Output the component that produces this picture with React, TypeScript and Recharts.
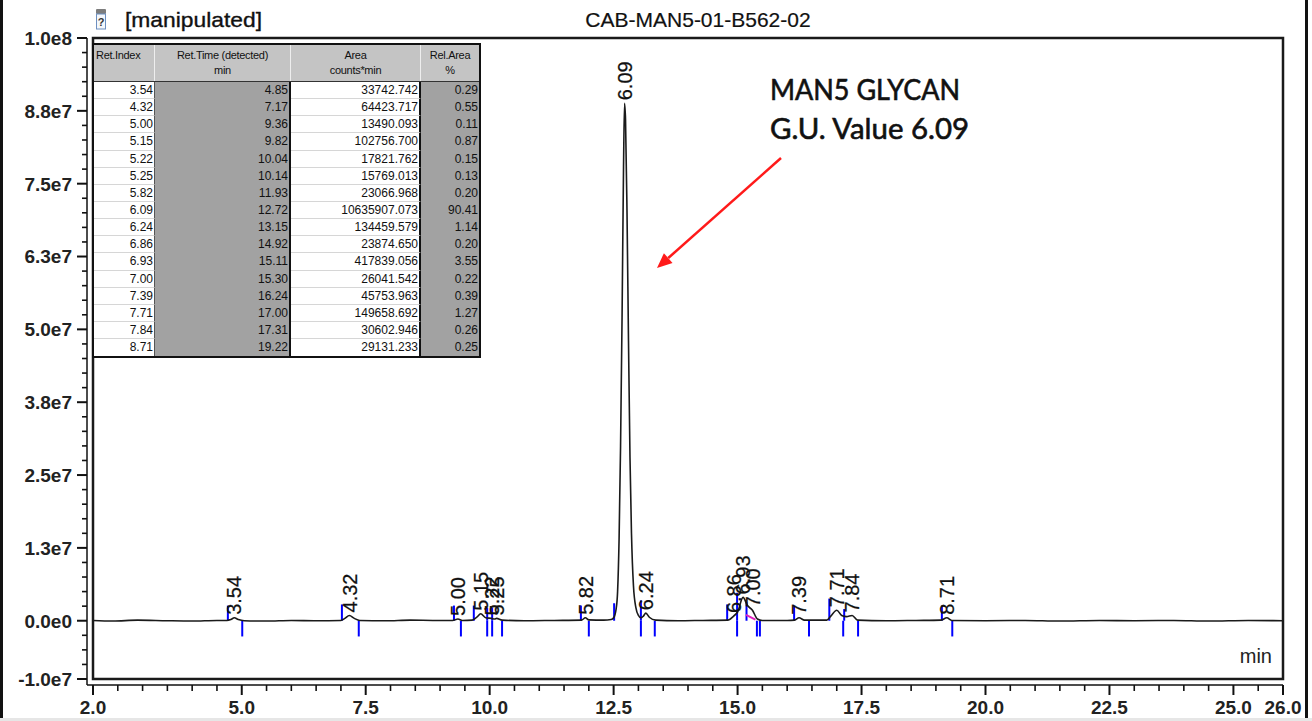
import React from 'react';
import { ComposedChart, Line, Scatter, XAxis, YAxis, ReferenceLine, ReferenceArea } from 'recharts';

const W = 1312;
const H = 721;

// Chromatogram trace: retention time (min) and signal (units of 1e6 counts)
const traceTime = [
  2.0, 2.4, 2.9, 3.5, 4.0, 4.5, 4.7, 4.78, 4.85, 4.93, 5.05, 5.5, 6.0, 6.5, 7.0, 7.08, 7.17, 7.27, 7.38,
  7.9, 8.4, 8.9, 9.25, 9.36, 9.45, 9.65, 9.74, 9.82, 9.92, 10.04, 10.1, 10.14, 10.25, 10.7, 11.3, 11.85,
  11.93, 12.0, 12.3, 12.45, 12.5, 12.55, 12.58, 12.61, 12.64, 12.67, 12.7, 12.72, 12.74, 12.77, 12.8,
  12.83, 12.86, 12.9, 12.95, 13.0, 13.05, 13.1, 13.15, 13.22, 13.35, 13.8, 14.3, 14.8, 14.92, 15.0,
  15.11, 15.2, 15.3, 15.4, 15.5, 16.0, 16.15, 16.24, 16.35, 16.8, 16.88, 17.0, 17.1, 17.2, 17.31, 17.42,
  18.0, 18.6, 19.1, 19.22, 19.32, 20.0, 20.8, 21.5, 22.3, 23.0, 23.8, 24.5, 25.3, 26.0,
];
const traceSignal = [
  0.05, -0.05, 0.1, 0.0, -0.05, 0.05, 0.05, 0.2, 0.5, 0.2, 0.0, -0.05, 0.05, 0.0, 0.05, 0.4, 0.9, 0.4, 0.05,
  0.0, 0.1, 0.05, 0.05, 0.3, 0.05, 0.1, 0.6, 1.2, 0.5, 0.4, 0.3, 0.4, 0.1, 0.0, 0.05, 0.1,
  0.5, 0.15, 0.1, 0.2, 0.5, 2.0, 5.0, 14.0, 30.0, 52.0, 78.0, 88.8, 86.0, 70.0, 48.0,
  28.0, 15.0, 6.0, 2.2, 0.9, 0.5, 0.8, 1.3, 0.6, 0.1, 0.0, 0.05, 0.1, 0.8, 1.5,
  4.0, 2.6, 1.8, 0.3, 0.05, 0.05, 0.1, 0.5, 0.1, 0.1, 0.8, 1.8, 0.9, 0.7, 0.9, 0.1,
  0.0, 0.05, 0.1, 0.5, 0.05, 0.0, 0.05, -0.05, 0.05, 0.0, 0.05, -0.05, 0.05, 0.0,
];

// Peak table
const peakRetIndex = ['3.54', '4.32', '5.00', '5.15', '5.22', '5.25', '5.82', '6.09', '6.24', '6.86', '6.93', '7.00', '7.39', '7.71', '7.84', '8.71'];
const peakRetTime = [4.85, 7.17, 9.36, 9.82, 10.04, 10.14, 11.93, 12.72, 13.15, 14.92, 15.11, 15.30, 16.24, 17.00, 17.31, 19.22];
const peakRetTimeText = ['4.85', '7.17', '9.36', '9.82', '10.04', '10.14', '11.93', '12.72', '13.15', '14.92', '15.11', '15.30', '16.24', '17.00', '17.31', '19.22'];
const peakArea = ['33742.742', '64423.717', '13490.093', '102756.700', '17821.762', '15769.013', '23066.968', '10635907.073', '134459.579', '23874.650', '417839.056', '26041.542', '45753.963', '149658.692', '30602.946', '29131.233'];
const peakRelArea = ['0.29', '0.55', '0.11', '0.87', '0.15', '0.13', '0.20', '90.41', '1.14', '0.20', '3.55', '0.22', '0.39', '1.27', '0.26', '0.25'];
const peakApex = [0.5, 0.9, 0.3, 1.2, 0.4, 0.4, 0.5, 88.8, 1.3, 0.8, 4.0, 1.8, 0.5, 1.8, 0.9, 0.5];

// Integration markers
const intStartTime = [4.72, 7.02, 9.28, 9.68, 9.95, 10.05, 11.84, 12.51, 13.05, 14.79, 14.99, 15.18, 16.14, 16.85, 17.15, 19.12];
const intStartHeight = [2.6, 2.8, 2.6, 2.6, 2.2, 2.2, 2.6, 3.0, 3.5, 2.8, 4.8, 3.2, 2.6, 3.8, 2.0, 2.6];
const intEndTime = [5.01, 7.36, 9.42, 9.95, 10.05, 10.25, 12.0, 13.05, 13.33, 14.99, 15.39, 15.45, 16.44, 17.13, 17.43, 19.33];
const intEndDepth = -2.7;

// Axes
const xMajorTicks = [2, 5, 7.5, 10, 12.5, 15, 17.5, 20, 22.5, 25, 26];
const xTickLabels = ['2.0', '5.0', '7.5', '10.0', '12.5', '15.0', '17.5', '20.0', '22.5', '25.0', '26.0'];
const yMajorTicks = [100, 87.5, 75, 62.5, 50, 37.5, 25, 12.5, 0, -10];
const yTickLabels = ['1.0e8', '8.8e7', '7.5e7', '6.3e7', '5.0e7', '3.8e7', '2.5e7', '1.3e7', '0.0e0', '-1.0e7'];

const xTicks: number[] = [];
for (let k = 4; k <= 52; k++) xTicks.push(k / 2);
const yTicks: number[] = [];
for (let k = -4; k <= 40; k++) yTicks.push(k * 2.5);

const traceData = traceTime.map((t, i) => ({ t, v: traceSignal[i] }));
const labelData = peakRetTime.map((t, i) => ({ t, v: peakApex[i], label: peakRetIndex[i] }));

const ARIAL = '"Liberation Sans", Arial, sans-serif';

const XTick = (props: any) => {
  const { x, y, payload } = props;
  const idx = xMajorTicks.findIndex((m) => Math.abs(m - payload.value) < 1e-6);
  const major = idx >= 0;
  return (
    <g>
      <line x1={x} x2={x} y1={y} y2={y + (major ? 10 : 6)} stroke="#111" strokeWidth={major ? 2 : 1.6} />
      {major && (
        <text x={x} y={y + 29} textAnchor="middle" fontFamily={ARIAL} fontSize={19} fontWeight="bold" fill="#222">
          {xTickLabels[idx]}
        </text>
      )}
    </g>
  );
};

const YTick = (props: any) => {
  const { x, y, payload } = props;
  const idx = yMajorTicks.findIndex((m) => Math.abs(m - payload.value) < 1e-6);
  const major = idx >= 0;
  return (
    <g>
      <line x1={x - (major ? 10 : 5)} x2={x} y1={y} y2={y} stroke="#111" strokeWidth={major ? 2 : 1.6} />
      {major && (
        <text x={x - 15} y={y} dy="0.36em" textAnchor="end" fontFamily={ARIAL} fontSize={19} fontWeight="bold" fill="#222">
          {yTickLabels[idx]}
        </text>
      )}
    </g>
  );
};

const PeakLabel = (props: any) => {
  const { cx, cy, payload } = props;
  if (cx == null || cy == null) return null;
  const y0 = cy - 3;
  return (
    <text
      x={cx}
      y={y0}
      dy="0.36em"
      transform={`rotate(-90 ${cx} ${y0})`}
      fontFamily={ARIAL}
      fontSize={20}
      fill="#111"
      stroke="#111"
      strokeWidth={0.25}
    >
      {payload.label}
    </text>
  );
};

const PeakTable = () => {
  const colW = [61, 136, 130, 58];
  const headerH = 37;
  const rowH = 17.15;
  const grey = '#a2a2a2';
  const headBg = '#c4c4c4';
  const cellBase: React.CSSProperties = {
    boxSizing: 'border-box',
    fontFamily: ARIAL,
    fontSize: 12,
    color: '#111',
    textAlign: 'right',
    paddingRight: 1,
    lineHeight: `${rowH}px`,
    height: rowH,
    overflow: 'hidden',
    whiteSpace: 'nowrap',
  };
  const colBg = ['#ffffff', grey, '#ffffff', grey];
  const colRight = ['1px solid #555', '2px solid #111', '2px solid #111', 'none'];
  const headers = [
    ['Ret.Index', ''],
    ['Ret.Time (detected)', 'min'],
    ['Area', 'counts*min'],
    ['Rel.Area', '%'],
  ];
  const rows = peakRetIndex.map((r, i) => [r, peakRetTimeText[i], peakArea[i], peakRelArea[i]]);
  return (
    <div
      style={{
        position: 'absolute',
        left: 92,
        top: 43,
        width: 389,
        boxSizing: 'border-box',
        border: '2px solid #111',
        background: '#fff',
      }}
    >
      <div style={{ display: 'flex', height: headerH, borderBottom: '1px solid #333', boxSizing: 'border-box' }}>
        {headers.map((h, c) => (
          <div
            key={c}
            style={{
              width: colW[c],
              boxSizing: 'border-box',
              background: headBg,
              borderRight: c < 3 ? '1px solid #eee' : 'none',
              fontFamily: ARIAL,
              fontSize: 11,
              letterSpacing: -0.3,
              color: '#111',
              textAlign: c === 0 ? 'left' : 'center',
              paddingLeft: c === 0 ? 2 : 0,
              paddingTop: 3,
              lineHeight: '15px',
            }}
          >
            <div>{h[0]}</div>
            <div>{h[1]}</div>
          </div>
        ))}
      </div>
      {rows.map((row, i) => (
        <div key={i} style={{ display: 'flex', height: rowH }}>
          {row.map((v, c) => (
            <div
              key={c}
              style={{
                ...cellBase,
                width: colW[c],
                background: colBg[c],
                borderRight: colRight[c],
                borderBottom: colBg[c] === '#ffffff' && i < rows.length - 1 ? '1px solid #d6d6d6' : 'none',
              }}
            >
              {v}
            </div>
          ))}
        </div>
      ))}
    </div>
  );
};

const Overlay = () => {
  // arrow geometry (annotation)
  const tip = { x: 657, y: 268 };
  const tail = { x: 781, y: 158 };
  const dx = tip.x - tail.x;
  const dy = tip.y - tail.y;
  const len = Math.sqrt(dx * dx + dy * dy);
  const ux = dx / len;
  const uy = dy / len;
  const hl = 15;
  const hw = 6.5;
  const bx = tip.x - hl * ux;
  const by = tip.y - hl * uy;
  const nx = -uy;
  const ny = ux;
  const ANN = "Lato, 'Open Sans', sans-serif";
  return (
    <svg width={W} height={H} style={{ position: 'absolute', left: 0, top: 0, pointerEvents: 'none' }}>
      <rect x={0} y={0} width={3} height={H} fill="#111" />
      <rect x={1305} y={0} width={3} height={H} fill="#111" />
      <rect x={0} y={718} width={W} height={3} fill="#e6e6e6" />
      {/* vial icon */}
      <rect x={96} y={9} width={10} height={5} rx={1} fill="#7d7d7d" />
      <rect x={96.5} y={14} width={9} height={15} fill="#f4f7fb" stroke="#6d8fc0" strokeWidth={1} />
      <text x={101} y={26} textAnchor="middle" fontFamily={ARIAL} fontSize={11} fontWeight="bold" fill="#333">?</text>
      <text x={125} y={27} fontFamily={ARIAL} fontSize={21} fill="#111" stroke="#111" strokeWidth={0.35} textLength={137} lengthAdjust="spacingAndGlyphs">[manipulated]</text>
      <text x={698} y={27} textAnchor="middle" fontFamily={ARIAL} fontSize={21} fill="#111" stroke="#111" strokeWidth={0.2}>CAB-MAN5-01-B562-02</text>
      <text x={770} y={100} fontFamily={ANN} fontSize={28} fill="#111" stroke="#111" strokeWidth={0.6} textLength={190} lengthAdjust="spacingAndGlyphs">MAN5 GLYCAN</text>
      <text x={770} y={139} fontFamily={ANN} fontSize={28} fill="#111" stroke="#111" strokeWidth={0.6} textLength={199} lengthAdjust="spacingAndGlyphs">G.U. Value 6.09</text>
      <line x1={tail.x} y1={tail.y} x2={bx} y2={by} stroke="#ff1a1a" strokeWidth={2.5} />
      <polygon
        points={`${tip.x},${tip.y} ${bx + hw * nx},${by + hw * ny} ${bx - hw * nx},${by - hw * ny}`}
        fill="#ff1a1a"
      />
      <text x={1272} y={663} textAnchor="end" fontFamily={ARIAL} fontSize={20} fill="#222">min</text>
    </svg>
  );
};

export default function App() {
  return (
    <div style={{ position: 'absolute', left: 0, top: 0, width: W, height: H, background: '#fff', overflow: 'hidden' }}>
      <ComposedChart width={W} height={H} margin={{ top: 38, right: 29, bottom: 0, left: 7 }}>
        <XAxis
          type="number"
          dataKey="t"
          domain={[2, 26]}
          ticks={xTicks}
          interval={0}
          allowDataOverflow
          height={36}
          padding={{ left: 6, right: 0 }}
          tickSize={0}
          tickMargin={0}
          tick={<XTick />}
          tickLine={false}
          axisLine={{ stroke: '#111', strokeWidth: 1.5 }}
        />
        <YAxis
          type="number"
          dataKey="v"
          domain={[-10, 100]}
          ticks={yTicks}
          interval={0}
          allowDataOverflow
          width={80}
          padding={{ top: 0, bottom: 6 }}
          tickSize={0}
          tickMargin={0}
          tick={<YTick />}
          tickLine={false}
          axisLine={{ stroke: '#111', strokeWidth: 1.5 }}
        />
        <ReferenceArea x1={2} x2={26} y1={-10} y2={100} fill="none" fillOpacity={0} stroke="#1a1a1a" strokeWidth={2.5} />
        {intStartTime.map((t, i) => (
          <ReferenceLine
            key={`s${i}`}
            segment={[{ x: t, y: 0 }, { x: t, y: intStartHeight[i] }]}
            stroke="#0000ff"
            strokeWidth={2}
          />
        ))}
        {intEndTime.map((t, i) => (
          <ReferenceLine
            key={`e${i}`}
            segment={[{ x: t, y: 0 }, { x: t, y: intEndDepth }]}
            stroke="#0000ff"
            strokeWidth={2}
          />
        ))}
        <ReferenceLine segment={[{ x: 15.17, y: 1.0 }, { x: 15.36, y: 0.2 }]} stroke="#e020c0" strokeWidth={2} />
        <Line
          data={traceData}
          dataKey="v"
          type="monotone"
          stroke="#1a1a1a"
          strokeWidth={1.6}
          dot={false}
          isAnimationActive={false}
        />
        <Scatter data={labelData} dataKey="v" isAnimationActive={false} shape={(p: any) => <PeakLabel {...p} />} />
      </ComposedChart>
      <PeakTable />
      <Overlay />
    </div>
  );
}
